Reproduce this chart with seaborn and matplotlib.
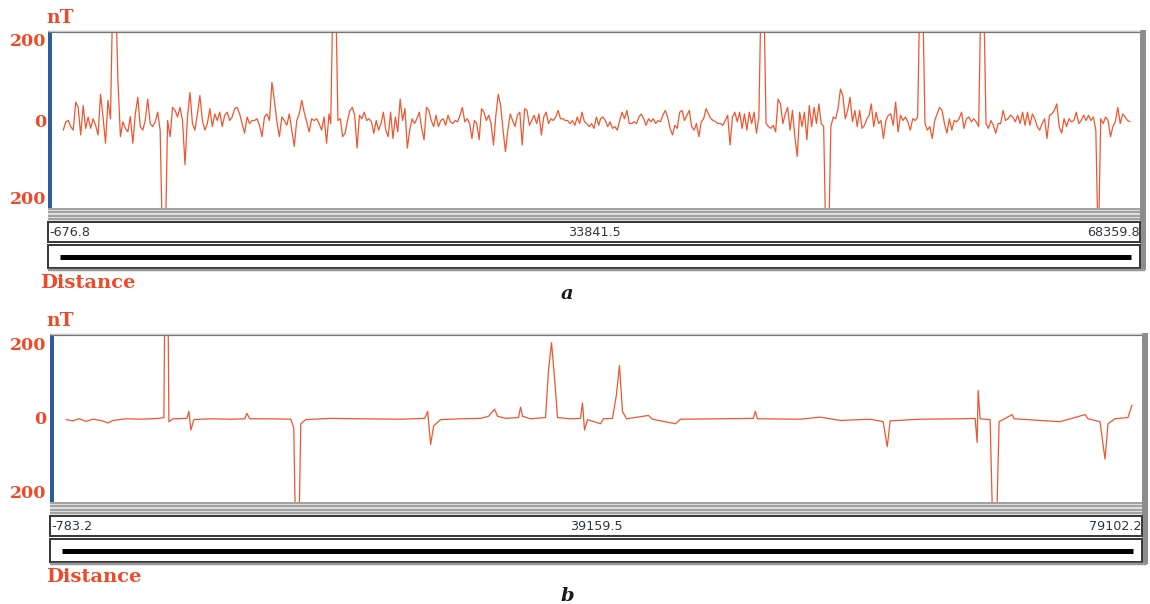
import numpy as np
import pandas as pd
import matplotlib
matplotlib.use("Agg")
import matplotlib.pyplot as plt
import seaborn as sns
from matplotlib.patches import Rectangle

# ---------------------------------------------------------------------------
# Profile a: magnetic anomaly (nT) along the survey line, four sections
# ---------------------------------------------------------------------------
a_range = [-676.8, 33841.5, 68359.8]
a_section_start = [104, 17090, 34222, 51418]
a_section_end = [16982, 34114, 51291, 67852]

a_sec1 = [-18, 1, 4, -10, -18, 46, 34, -29, 38, -14, 12, -14, 8, -7, -29, 64, 12, -48, 50, 8,
          320, 320, 94, -33, 1, -14, -22, 13, -48, 19, 57, -10, -18, 4, 53, -3, -10, 1, 23, -18,
          -300, -300, 4, -33, 34, 27, 12, 34, 4, -97, 12, 68, -3, -18, 19, 61, 4, -18, -3, 31,
          -10, 19, 4, 23, -10, 16, 23, 4, 12, 31, 34, 19, -3, -25, 12, -3, 4, 4, 8, -7,
          -33, 12, 19, 4, 91, 50, 1, -33, 12, 4, -7, 19, -18, -55, 4, 19, 50, 23, 1, -22,
          8, 4, 8, -3, -18, 12, -48, 19]
a_sec2 = [-3, 320, 320, 4, 8, -33, -25, 4, 27, 34, 16, -59, 16, 8, 23, 4, 8, 1, -25, 4,
          -18, -3, 23, -18, -33, 23, -37, 12, -22, 53, 4, 31, -59, -18, 8, -3, 8, 23, -14, -40,
          34, 27, 4, -10, 16, -10, 4, 8, -7, 16, 1, -3, 4, 1, 16, 34, 1, 8, -3, -37,
          4, -3, -40, 31, 23, 4, 16, -3, -52, 16, 64, 38, -18, -67, -18, 19, 4, -10, 16, 23,
          -52, 31, 27, -7, 4, 16, -3, 19, -29, 12, 23, -3, 8, 4, 12, 27, 8, 8, 4, 4,
          -3, 4, -7, 12, -3, 23, 1, -3, -10, -3, -14, 12, -7]
a_sec3 = [8, 12, 4, -10, 1, -14, -10, -18, 4, 23, 8, 27, -3, -3, 1, -3, 12, 19, 8, -7,
          8, 1, 8, -3, 4, 1, 16, 27, 12, -14, -29, -7, -14, 23, 27, 4, 16, 27, -10, -18,
          -3, -33, 1, 8, 31, 19, 8, 4, 1, -3, -3, -7, 4, 16, -52, 12, 23, 1, 23, -14,
          19, -18, 23, -3, 23, -25, 12, 320, 320, -3, -10, -14, -7, -22, 53, 42, -3, 19, 34, -18,
          27, -33, -78, 23, -10, 23, -40, 38, -10, 34, -3, 42, -3, -10, -300, -300, -10, 12, 8, 31,
          76, 61, 8, 27, 57, 1, 27, -10, 27, -14, -7, 8, 16]
a_sec4 = [42, -10, 23, -3, 4, -37, 4, 16, 19, -7, 46, -22, 16, 4, 12, 1, -18, 8, 4, 12,
          320, 320, -3, -18, -10, -37, 4, 19, 34, 27, -3, -25, 8, -18, 4, 1, 8, 23, -14, 8,
          12, 1, 8, 1, -10, 320, 320, -3, -14, 4, -7, -25, -3, -3, 27, 4, 8, 16, 12, 1,
          16, -3, 23, -7, 23, -7, 19, 8, -10, -18, -3, 8, -37, 16, 19, 27, 42, -10, -25, 8,
          -10, 8, 1, 4, 23, -3, 4, 16, 4, 16, 4, 12, -18, -300, 8, -3, 12, 4, -33, -10,
          1, 34, -3, 19, 12, 4, 1]

# ---------------------------------------------------------------------------
# Profile b: distance / anomaly pairs
# ---------------------------------------------------------------------------
b_range = [-783.2, 39159.5, 79102.2]
b_dist = [171, 685, 1126, 1640, 2154, 2741, 3255, 3622, 4577, 5678, 6999, 7366, 7440, 7660,
          7733, 8027, 9055, 9202, 9349, 9569, 10817, 12286, 13314, 13461, 13681, 15223, 16691,
          16911, 17058, 17278, 17425, 17792, 19628, 21830, 24767, 26529, 26750, 26970, 27190,
          27704, 29173, 30641, 31228, 31669, 31889, 32476, 33431, 33578, 33725, 34312, 35414,
          35634, 35854, 36074, 36295, 37249, 37983, 38130, 38277, 38497, 39452, 39672, 40333,
          40626, 40847, 41067, 41361, 42976, 43270, 44959, 45326, 48263, 50686, 50833, 50980,
          54137, 55605, 57074, 59277, 60231, 60525, 60745, 62948, 65884, 66986, 67133, 67206,
          67353, 68087, 68308, 68528, 68748, 69703, 69850, 73227, 75063, 75283, 76164, 76531,
          76752, 77266, 78220, 78514]
b_nT = [0, -3, 2, -4, 1, -2, -8, -2, 2, 1, 3, 5, 320, 320,
        -5, 2, 3, 20, -25, 0, 2, 1, 2, 15, 2, 2, 1,
        -20, -300, -300, -10, 0, 3, 2, 1, 3, 20, -60, -15,
        0, 2, 3, 8, 25, 8, 3, 5, 30, 8, 2, 5,
        120, 185, 100, 5, 2, 3, 40, -25, 0, -10, 2, 3,
        60, 130, 20, 2, 10, 1, -10, 1, 2, 3, 20, 2,
        1, 6, -2, 1, -5, -65, -3, 1, 2, 3, -55, 70,
        2, 0, -300, -300, -5, 12, 2, -5, 12, 2, -5, -95,
        -10, 2, 5, 35]

RED = "#ee4a2a"
LINE = "#f0562f"
W, H = 1150, 604

sns.set_theme(style="white")
plt.rcParams["font.family"] = ["DejaVu Sans"]

fig = plt.figure(figsize=(W / 100, H / 100), dpi=100)
fig.patch.set_facecolor("white")


def frac(x0, y0, x1, y1):
    return [x0 / W, 1 - y1 / H, (x1 - x0) / W, (y1 - y0) / H]


def profile_a_frame():
    xs, ys = [], []
    for s, e, vals in zip(a_section_start, a_section_end, [a_sec1, a_sec2, a_sec3, a_sec4]):
        xs.extend(np.linspace(s, e, len(vals)))
        ys.extend(vals)
    return pd.DataFrame({"distance": xs, "nT": ys})


panels = [
    dict(df=profile_a_frame(), rng=a_range, ylim=(-196, 204),
         left=48, right=1138, top=33, bottom=208, tag="a", dist_x=40, tag_y=294),
    dict(df=pd.DataFrame({"distance": b_dist, "nT": b_nT}), rng=b_range, ylim=(-198, 201),
         left=50, right=1140, top=336, bottom=502, tag="b", dist_x=46, tag_y=596),
]

ov = fig.add_axes([0, 0, 1, 1], zorder=5)
ov.set_xlim(0, W)
ov.set_ylim(H, 0)
ov.axis("off")
ov.patch.set_alpha(0)

px = 72 / 100  # points per pixel

for p in panels:
    L, R, T, B = p["left"], p["right"], p["top"], p["bottom"]
    ax = fig.add_axes(frac(L + 3, T, R, B), zorder=2)
    sns.lineplot(data=p["df"], x="distance", y="nT", ax=ax, color=LINE,
                 linewidth=0.9, estimator=None, sort=False)
    ax.set_xlim(p["rng"][0], p["rng"][2])
    ax.set_ylim(*p["ylim"])
    ax.set_xticks([])
    ax.set_yticks([])
    ax.set_xlabel("")
    ax.set_ylabel("")
    for sp in ax.spines.values():
        sp.set_visible(False)
    ax.set_facecolor("white")

    box_r = R + 2
    # frame: top border, blue left bar, grey right bar
    ov.plot([L, box_r], [T - 1, T - 1], color="#6b6b6b", lw=2.2 * px, solid_capstyle="butt")
    ov.plot([L, box_r], [T - 2.5, T - 2.5], color="#c8c8c8", lw=1.2 * px, solid_capstyle="butt")
    ov.add_patch(Rectangle((L, T), 3.5, B - T, color="#2a5d9e", lw=0))
    ov.add_patch(Rectangle((box_r, T - 3), 5.5, (B - T) + 65, color="#8d8d8d", lw=0))

    # splitter stripes under the plot
    ov.add_patch(Rectangle((L, B), box_r - L, 13, color="#dedede", lw=0))
    for k in range(4):
        ov.plot([L, box_r], [B + 1 + 3.4 * k, B + 1 + 3.4 * k], color="#8f8f8f",
                lw=1.5 * px, solid_capstyle="butt")

    # distance scale box
    sy0, sy1 = B + 14, B + 34
    ov.add_patch(Rectangle((L, sy0), box_r - L, sy1 - sy0, facecolor="white",
                           edgecolor="#3a3a3a", lw=2 * px))
    ymid = (sy0 + sy1) / 2 + 0.5
    ov.text(L + 1, ymid, f"{p['rng'][0]:.1f}", ha="left", va="center",
            fontsize=9.2, color="#2f3540")
    ov.text((L + box_r) / 2, ymid, f"{p['rng'][1]:.1f}", ha="center", va="center",
            fontsize=9.2, color="#2f3540")
    ov.text(box_r, ymid, f"{p['rng'][2]:.1f}", ha="right", va="center",
            fontsize=9.2, color="#2f3540")

    # scroll bar box
    by0, by1 = B + 37, B + 60
    ov.add_patch(Rectangle((L, by0), box_r - L, by1 - by0, facecolor="white",
                           edgecolor="#3a3a3a", lw=2 * px))
    ov.plot([L, box_r + 5], [by1 + 2, by1 + 2], color="#9a9a9a", lw=2.5 * px,
            solid_capstyle="butt")
    ov.plot([L + 12, box_r - 9], [(by0 + by1) / 2, (by0 + by1) / 2], color="black",
            lw=5 * px, solid_capstyle="butt")

    # red labels
    ax_y = lambda v: T + (p["ylim"][1] - v) / (p["ylim"][1] - p["ylim"][0]) * (B - T)
    lab = dict(color=RED, family="DejaVu Serif", fontweight="bold")
    ov.text(60, T - 15, "nT", ha="center", va="center", fontsize=13.5, **lab)
    ov.text(46, T + 9, "200", ha="right", va="center", fontsize=12.5, **lab)
    ov.text(46, ax_y(0), "0", ha="right", va="center", fontsize=12.5, **lab)
    ov.text(46, B - 9, "200", ha="right", va="center", fontsize=12.5, **lab)
    ov.text(p["dist_x"], B + 75, "Distance", ha="left", va="center", fontsize=14, **lab)
    ov.text(567, p["tag_y"], p["tag"], ha="center", va="center", fontsize=14,
            family="DejaVu Serif", fontweight="bold", fontstyle="italic", color="#1a1a1a")

fig.savefig("out.png", dpi=100, facecolor="white")
